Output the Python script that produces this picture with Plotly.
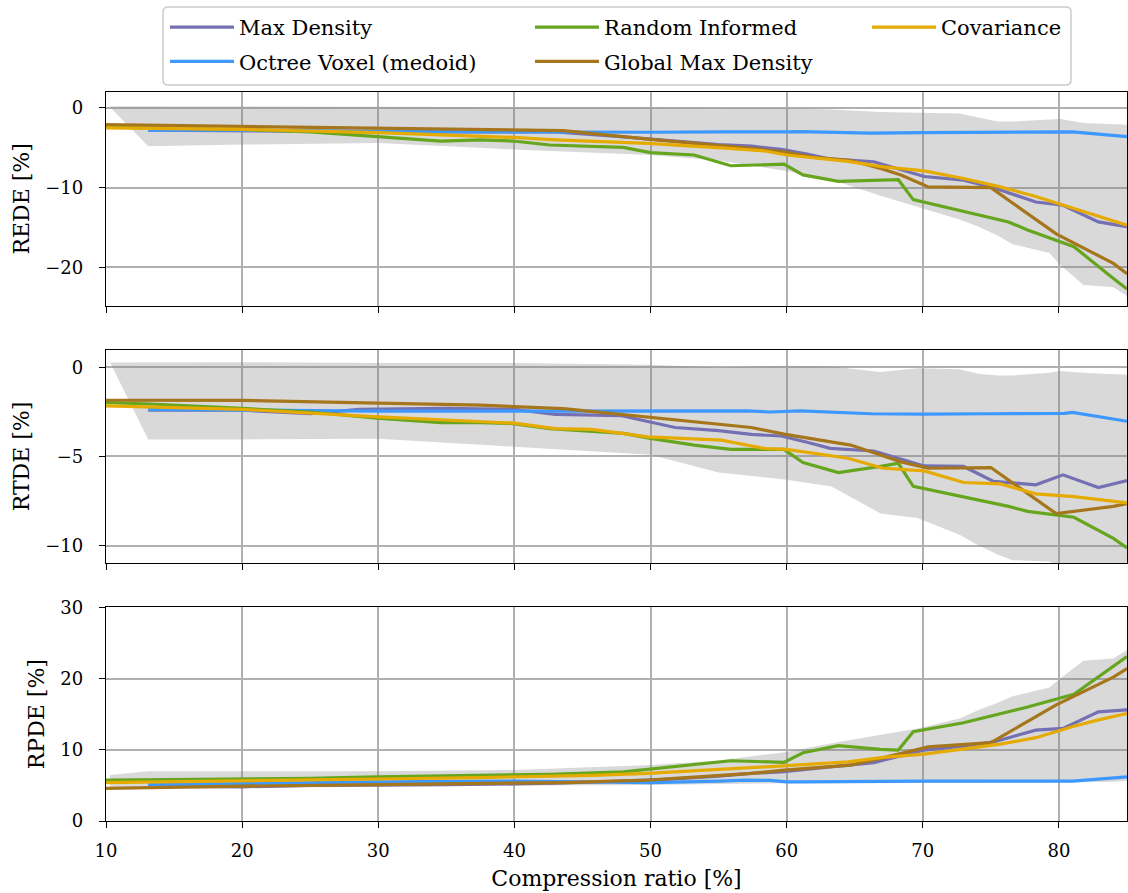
import plotly.graph_objects as go
from plotly.subplots import make_subplots

# ---------------- data ----------------
# compression ratio [%] per method
x_max_density = [13.1, 20, 25, 28.6, 35, 40, 43, 47.8, 51.8, 55, 57.4, 59.6, 61.5, 63.2, 66.4,
                 70.1, 73.0, 75.2, 78.3, 80.3, 82.9, 85]
x_octree = [13.1, 20, 30, 40, 50, 55, 57, 58.8, 60, 61, 66.2, 70, 75, 80.4, 81, 85]
x_random = [10, 13.3, 20, 25, 29.9, 34.6, 37.5, 39.9, 42.6, 48.0, 50.0, 53.2, 55.9, 59.8, 61.2,
            63.8, 66.9, 68.2, 69.3, 73.0, 76.3, 77.7, 81.1, 84.0, 85]
x_global = [10, 20, 30, 37.5, 43.6, 49.8, 54, 57.4, 59.8, 62, 64.7, 66.9, 68.4, 70.4, 75.0,
            79.8, 84, 85]
x_cov = [10, 20, 30, 37.5, 40, 43, 45.7, 49.8, 55.2, 58.4, 60, 64.5, 67.1, 70.1, 73, 75.7,
         78.3, 81.1, 82.9, 85]

# REDE [%]
rede_max_density = [-2.8, -2.8, -2.9, -3.0, -3.0, -3.0, -3.0, -3.6, -4.2, -4.6, -4.8, -5.2, -5.8,
                    -6.4, -6.75, -8.6, -9.05, -10.0, -11.8, -12.2, -14.3, -14.9]
rede_octree = [-2.8, -2.8, -2.95, -3.05, -3.05, -3.0, -3.0, -3.1, -3.0, -2.98, -3.15, -3.1,
               -3.05, -2.95, -3.0, -3.6]
rede_random = [-2.4, -2.5, -2.7, -3.0, -3.6, -4.15, -4.0, -4.15, -4.65, -4.95, -5.6, -5.9, -7.25,
               -7.05, -8.4, -9.2, -9.05, -9.0, -11.5, -13.0, -14.3, -15.3, -17.4, -21.4, -22.7]
rede_global = [-2.1, -2.3, -2.5, -2.7, -2.85, -3.9, -4.5, -5.07, -5.5, -6.2, -6.6, -7.6, -8.4,
               -9.9, -10.0, -15.8, -19.5, -20.8]
rede_cov = [-2.5, -2.7, -3.1, -3.6, -3.7, -4.0, -4.2, -4.45, -5.0, -5.4, -5.9, -6.7, -7.4, -7.9,
            -8.85, -9.9, -11.1, -12.6, -13.6, -14.7]

# RTDE [%]
rtde_max_density = [-2.4, -2.4, -2.6, -2.35, -2.3, -2.35, -2.63, -2.7, -3.37, -3.55, -3.76, -3.85,
                    -4.2, -4.54, -4.69, -5.53, -5.56, -6.4, -6.59, -6.03, -6.74, -6.35]
rtde_octree = [-2.35, -2.4, -2.45, -2.45, -2.44, -2.44, -2.44, -2.5, -2.46, -2.44, -2.6, -2.62,
               -2.6, -2.58, -2.52, -3.02]
rtde_random = [-1.97, -2.05, -2.3, -2.5, -2.85, -3.1, -3.1, -3.15, -3.43, -3.7, -3.98, -4.36, -4.6,
               -4.6, -5.34, -5.9, -5.55, -5.38, -6.68, -7.25, -7.8, -8.08, -8.41, -9.6, -10.13]
rtde_global = [-1.84, -1.85, -2.0, -2.12, -2.31, -2.78, -3.1, -3.37, -3.74, -4.0, -4.36, -4.92,
               -5.3, -5.66, -5.62, -8.21, -7.8, -7.65]
rtde_cov = [-2.16, -2.35, -2.78, -3.05, -3.13, -3.43, -3.48, -3.9, -4.08, -4.55, -4.6, -5.1, -5.66,
            -5.81, -6.46, -6.54, -7.1, -7.25, -7.4, -7.6]

# RPDE [%]
rpde_max_density = [4.9, 4.8, 5.0, 5.0, 5.1, 5.2, 5.3, 5.6, 5.9, 6.3, 6.68, 6.9, 7.3, 7.6, 8.2,
                    9.96, 10.5, 11.1, 12.76, 13.0, 15.33, 15.6]
rpde_octree = [5.1, 5.3, 5.5, 5.6, 5.4, 5.6, 5.75, 5.7, 5.5, 5.5, 5.6, 5.6, 5.6, 5.6, 5.6, 6.2]
rpde_random = [5.75, 5.8, 5.9, 6.0, 6.2, 6.3, 6.4, 6.5, 6.55, 6.9, 7.3, 7.85, 8.46, 8.23, 9.58,
               10.57, 10.05, 9.96, 12.53, 13.8, 15.33, 16.0, 17.8, 21.7, 23.1]
rpde_global = [4.58, 4.9, 5.1, 5.25, 5.4, 5.75, 6.3, 6.68, 7.15, 7.5, 7.85, 8.8, 9.49, 10.4, 11.0,
               16.3, 20.2, 21.4]
rpde_cov = [5.38, 5.6, 5.9, 6.1, 6.2, 6.3, 6.4, 6.68, 7.2, 7.6, 7.77, 8.3, 8.93, 9.4, 10.1, 10.8,
            11.7, 13.3, 14.2, 15.1]

# spread band (upper / lower envelope) per metric
x_band = [10.3, 13.1, 20, 30, 40, 50, 55, 60, 63.3, 66.9, 69.6, 72.7, 74.1, 75.5, 76.6, 79.3,
          80.1, 81.8, 84, 85]
rede_upper = [0.2, 0.2, 0.2, 0.15, 0.1, 0.05, 0.0, 0.0, -0.2, -0.5, -0.6, -0.7, -1.2, -1.7, -1.7,
              -1.5, -1.4, -1.9, -2.0, -2.1]
rede_lower = [0.1, -4.8, -4.6, -4.4, -5.2, -5.9, -6.6, -7.9, -9.0, -11.0, -12.4, -14.0, -14.9,
              -16.0, -17.1, -18.2, -19.7, -22.2, -22.5, -23.6]
rtde_upper = [0.28, 0.28, 0.3, 0.25, 0.25, 0.15, 0.0, 0.1, 0.05, -0.25, -0.05, -0.1, -0.35, -0.45,
              -0.45, -0.3, -0.2, -0.3, -0.4, -0.41]
rtde_lower = [0.28, -4.04, -4.04, -4.0, -4.45, -4.9, -5.9, -6.3, -6.69, -8.2, -8.45, -9.4, -10.0,
              -10.5, -10.82, -10.9, -11.2, -11.5, -11.5, -11.5]
rpde_upper = [6.45, 7.0, 7.0, 7.0, 7.15, 7.85, 8.5, 9.7, 10.9, 12.1, 13.0, 14.4, 15.57, 16.6, 17.5,
              18.75, 20.0, 22.5, 22.8, 24.0]
rpde_lower = [4.5, 4.5, 4.6, 4.8, 5.0, 5.05, 5.2, 5.3, 5.35, 5.4, 5.4, 5.4, 5.4, 5.4, 5.4, 5.4,
              5.4, 5.4, 5.5, 5.6]

metric_labels = ["REDE [%]", "RTDE [%]", "RPDE [%]"]
x_ticks = [10, 20, 30, 40, 50, 60, 70, 80]
y_ticks = [[0, -10, -20], [0, -5, -10], [0, 10, 20, 30]]
y_ranges = [[-24.8, 2.0], [-11.0, 1.0], [0, 30]]

methods = [
    # name, colour, x, [rede, rtde, rpde], legend column
    ("Max Density", "#7570b3", x_max_density,
     [rede_max_density, rtde_max_density, rpde_max_density], "legend"),
    ("Octree Voxel (medoid)", "#3d98ff", x_octree,
     [rede_octree, rtde_octree, rpde_octree], "legend"),
    ("Random Informed", "#66a61e", x_random,
     [rede_random, rtde_random, rpde_random], "legend2"),
    ("Global Max Density", "#a6761d", x_global,
     [rede_global, rtde_global, rpde_global], "legend2"),
    ("Covariance", "#e6ab02", x_cov,
     [rede_cov, rtde_cov, rpde_cov], "legend3"),
]
bands = [(rede_upper, rede_lower), (rtde_upper, rtde_lower), (rpde_upper, rpde_lower)]

# ---------------- figure ----------------
W, H = 1128, 893
L, R, T, B = 106, 1, 92, 72
PW, PH = W - L - R, H - T - B

fig = make_subplots(rows=3, cols=1, shared_xaxes=True, vertical_spacing=44 / PH)

FONT = "DejaVu Serif"

for i in range(3):
    up, lo = bands[i]
    fig.add_trace(go.Scatter(
        x=x_band + x_band[::-1], y=up + lo[::-1], fill="toself",
        fillcolor="rgba(128,128,128,0.30)", line=dict(width=0),
        mode="lines", hoverinfo="skip", showlegend=False), row=i + 1, col=1)
    for name, color, xs, ys, leg in methods:
        fig.add_trace(go.Scatter(
            x=xs, y=ys[i], mode="lines", name=name,
            line=dict(color=color, width=3.2),
            legend=leg, legendgroup=name, showlegend=(i == 0)), row=i + 1, col=1)

axis_common = dict(
    showline=True, linecolor="black", linewidth=1.3, mirror=True,
    ticks="outside", ticklen=6, tickwidth=1.3, tickcolor="black",
    showgrid=True, gridcolor="#b0b0b0", gridwidth=1.6, zeroline=False,
    tickfont=dict(family=FONT, size=18, color="black"),
)

for i in range(3):
    fig.update_xaxes(range=[10, 85], tickvals=x_ticks, row=i + 1, col=1,
                     ticklabelstandoff=7, **axis_common)
    fig.update_yaxes(range=y_ranges[i], tickvals=y_ticks[i], row=i + 1, col=1,
                     ticklabelstandoff=12,
                     title=dict(text=metric_labels[i], standoff=9,
                                font=dict(family=FONT, size=22, color="black")),
                     **axis_common)

fig.update_xaxes(title=dict(text="Compression ratio [%]", standoff=10,
                            font=dict(family=FONT, size=22, color="black")), row=3, col=1)


def px_x(px):
    return (px - L) / PW


def px_y(py):
    return (H - B - py) / PH


legend_style = dict(
    bgcolor="rgba(0,0,0,0)", borderwidth=0, orientation="v",
    xanchor="left", yanchor="top", tracegroupgap=4,
    font=dict(family=FONT, size=21, color="black"), itemwidth=64,
)

# rounded legend frame
x0, x1, y0, y1 = px_x(163), px_x(1071), px_y(85), px_y(7)
rx, ry = 5 / PW, 5 / PH
frame = (f"M{x0 + rx},{y0} L{x1 - rx},{y0} Q{x1},{y0} {x1},{y0 + ry} "
         f"L{x1},{y1 - ry} Q{x1},{y1} {x1 - rx},{y1} L{x0 + rx},{y1} "
         f"Q{x0},{y1} {x0},{y1 - ry} L{x0},{y0 + ry} Q{x0},{y0} {x0 + rx},{y0} Z")

fig.update_layout(
    width=W, height=H,
    margin=dict(l=L, r=R, t=T, b=B),
    paper_bgcolor="white", plot_bgcolor="white",
    font=dict(family=FONT, color="black"),
    legend=dict(x=px_x(165), y=px_y(7), **legend_style),
    legend2=dict(x=px_x(530), y=px_y(7), **legend_style),
    legend3=dict(x=px_x(867), y=px_y(7), **legend_style),
    shapes=[dict(type="path", path=frame, xref="paper", yref="paper",
                 line=dict(color="#cccccc", width=1.5), fillcolor="white", layer="below")],
)

fig.write_html("out.html")
